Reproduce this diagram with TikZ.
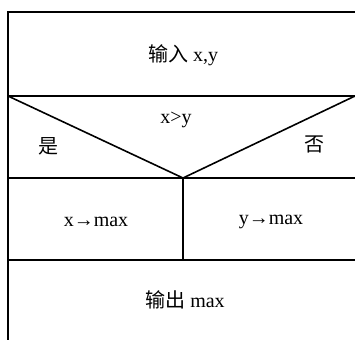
\documentclass[tikz,border=0pt]{standalone}
\usepackage{fontspec}
\setmainfont{Liberation Serif}
\newfontfamily\cjk{Noto Sans CJK SC}
\begin{document}
\begin{tikzpicture}[x=1pt,y=-1pt,
  rule/.style={line width=1.6pt,black},
  lbl/.style={inner sep=0pt,font=\fontsize{20}{22}\selectfont}]
\useasboundingbox (0,0) rectangle (355,340);
\coordinate (tl) at (8,12);
\coordinate (tr) at (355,12);
\coordinate (bl) at (8,340);
\coordinate (a1) at (8,96);
\coordinate (a2) at (355,96);
\coordinate (b1) at (8,178);
\coordinate (b2) at (355,178);
\coordinate (c1) at (8,260);
\coordinate (c2) at (355,260);
\coordinate (m1) at (183,178);
\coordinate (m2) at (183,260);
\draw[rule] (tr) -- (tl) -- (bl);
\draw[rule] (a1) -- (a2);
\draw[rule] (b1) -- (b2);
\draw[rule] (c1) -- (c2);
\draw[rule] (m1) -- (m2);
\draw[rule] (a1) -- (m1) -- (a2);
\node[lbl] (in) at (183,55) {{\cjk 输入} x,y};
\node[lbl] (cond) at (176,120) {x>y};
\node[lbl] (yes) at (48,146) {\cjk 是};
\node[lbl] (no) at (314,144) {\cjk 否};
\node[lbl] (sx) at (96,222) {x→max};
\node[lbl] (sy) at (271,222) {y→max};
\node[lbl] (out) at (185,300) {{\cjk 输出} max};
\end{tikzpicture}
\end{document}
